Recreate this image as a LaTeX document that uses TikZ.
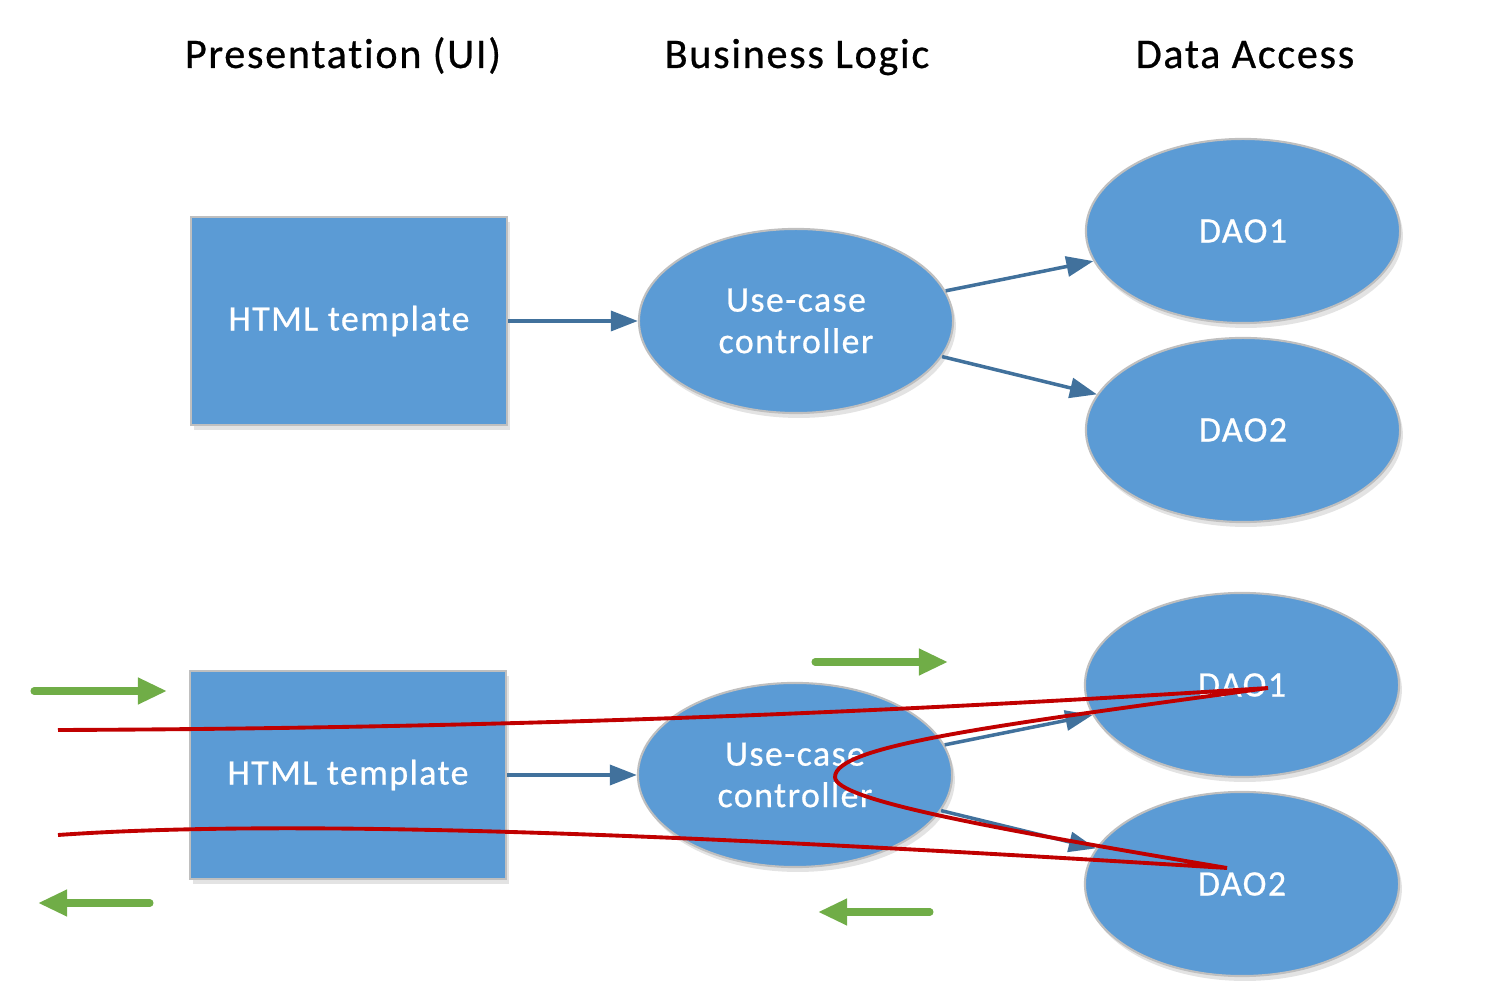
\documentclass[tikz,border=0pt]{standalone}
\usepackage{fontspec}
\setmainfont{Carlito}[Ligatures=NoCommon]
\newfontfamily\spacedfont{Carlito}[LetterSpace=4,Ligatures=NoCommon,FakeBold=0.6]
\usetikzlibrary{shapes.geometric,arrows.meta,shadows}
\definecolor{boxblue}{HTML}{5B9BD5}
\definecolor{edgeblue}{HTML}{41719C}
\definecolor{rimgray}{HTML}{BFBFBF}
\definecolor{arrowgreen}{HTML}{70AD47}
\definecolor{flowred}{HTML}{C00000}
\begin{document}
\begin{tikzpicture}[x=0.01cm,y=-0.01cm,
  shapebase/.style={fill=boxblue, draw=rimgray, line width=0.6pt, text=white,
    inner sep=0pt, align=center, font=\spacedfont\fontsize{10.2pt}{11.8pt}\selectfont,
    drop shadow={opacity=0.22, shadow xshift=0.8pt, shadow yshift=-1.4pt}},
  boxnode/.style={shapebase, rectangle, minimum width=3.16cm, minimum height=2.08cm},
  ellnode/.style={shapebase, ellipse, minimum width=3.14cm, minimum height=1.84cm},
  heading/.style={font=\spacedfont\fontsize{12pt}{14pt}\selectfont, anchor=base, inner sep=0pt},
  flow/.style={draw=edgeblue, line width=1pt, -{Triangle[length=0.27cm,width=0.2cm]}},
  greenarrow/.style={draw=arrowgreen, line width=2pt, line cap=round, -{Triangle[length=0.29cm,width=0.25cm]}},
  redpath/.style={draw=flowred, line width=1.1pt}
]
\useasboundingbox (0,0) rectangle (1500,995);

% headings
\node[heading] (h1) at (343,68) {Presentation (UI)};
\node[heading] (h2) at (797,68) {Business Logic};
\node[heading] (h3) at (1245,68) {Data Access};

% top row
\node[boxnode] (html1) at (349,321) {HTML template};
\node[ellnode] (uc1) at (796,321) {Use-case\\controller};
\node[ellnode] (daoA1) at (1243,231) {DAO1};
\node[ellnode] (daoA2) at (1243,430) {DAO2};
\draw[flow] (html1) -- (uc1);
\draw[flow] (uc1) -- (daoA1);
\draw[flow] (uc1) -- (daoA2);

% bottom row
\node[boxnode] (html2) at (348,775) {HTML template};
\node[ellnode] (uc2) at (795,775) {Use-case\\controller};
\node[ellnode] (daoB1) at (1242,685) {DAO1};
\node[ellnode] (daoB2) at (1242,884) {DAO2};
\draw[flow] (html2) -- (uc2);
\draw[flow] (uc2) -- (daoB1);
\draw[flow] (uc2) -- (daoB2);

% green direction arrows
\coordinate (g1s) at (34,691);  \coordinate (g1e) at (167,691);
\coordinate (g2s) at (815,662); \coordinate (g2e) at (948,662);
\coordinate (g3s) at (150,903); \coordinate (g3e) at (38,903);
\coordinate (g4s) at (930,912); \coordinate (g4e) at (818,912);
\draw[greenarrow] (g1s) -- (g1e);
\draw[greenarrow] (g2s) -- (g2e);
\draw[greenarrow] (g3s) -- (g3e);
\draw[greenarrow] (g4s) -- (g4e);

% red request/response path
\coordinate (rs) at (58,730);
\coordinate (rt1) at (1268,688);
\coordinate (rl) at (835,777);
\coordinate (rt2) at (1227,868);
\coordinate (re) at (58,835);
\draw[redpath] (rs) .. controls (600,728) and (1000,705) .. (rt1)
  .. controls (1000,725) and (835,745) .. (rl)
  .. controls (835,800) and (990,828) .. (rt2)
  .. controls (700,835) and (300,818) .. (re);
\end{tikzpicture}
\end{document}
